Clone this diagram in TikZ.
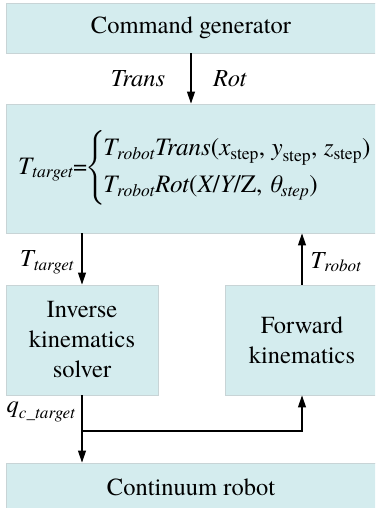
\documentclass[tikz,border=0pt]{standalone}
\usepackage{amsmath}
\usepackage{fontspec}
\setmainfont{TeX Gyre Termes}
\usetikzlibrary{arrows.meta,calc}
\definecolor{boxfill}{RGB}{212,236,238}
\definecolor{boxline}{RGB}{200,212,214}
\tikzset{
  blockbox/.style={draw=boxline, fill=boxfill, line width=0.9pt, inner sep=0pt,
    align=center, font=\rmfamily\fontsize{24.5}{30}\selectfont},
  flow/.style={-{Triangle[width=8pt,length=12pt]}, line width=1.1pt},
  lbl/.style={inner sep=0pt, font=\rmfamily\fontsize{24.5}{29}\selectfont}
}
\begin{document}
\begin{tikzpicture}[x=1pt,y=-1pt]
\useasboundingbox (0,0) rectangle (375,508);
\clip (0,0) rectangle (375,508);
\fill[white] (0,0) rectangle (375,508);

% blocks
\node[blockbox, minimum width=370pt, minimum height=50pt] (cmd) at (191,28) {Command generator};
\node[blockbox, minimum width=370pt, minimum height=129pt] (form) at (191,168.5) {};
\node[blockbox, minimum width=152pt, minimum height=110pt] (inv) at (82,340) {Inverse\\kinematics\\solver};
\node[blockbox, minimum width=154pt, minimum height=110pt] (fwd) at (302,340) {Forward\\kinematics};
\node[blockbox, minimum width=370pt, minimum height=48pt] (rob) at (191,487) {Continuum robot};

% update rule inside the target block
\node[lbl, anchor=west, font=\rmfamily\fontsize{25.1}{29}\selectfont] (eq) at (18,168) {$\textit{T}_{\textit{target}}\text{=}\mkern-4mu\left\{\mkern-2mu\begin{array}{@{}l@{}}
  \textit{T}_{\textit{robot}}\textit{Trans}\text{(}\textit{x}_{\text{step}}\text{, }\textit{y}_{\text{step}}\text{, }\textit{z}_{\text{step}}\text{)}\\[8pt]
  \textit{T}_{\textit{robot}}\textit{Rot}\text{(}\textit{X}\text{/}\textit{Y}\text{/Z, }\textit{θ}_{\textit{step}}\text{)}
\end{array}\right.$};

% connectors
\draw[flow] (cmd.south) -- (form.north);
\draw[flow] (form.south -| inv) -- (inv.north);
\draw[flow] (fwd.north) -- (form.south -| fwd);
\draw[flow] (inv.south) -- (rob.north -| inv);
\coordinate (split) at (82,431);
\draw[flow] (split) -| (fwd.south);

% connector labels
\node[lbl] (ltrans) at (138,79) {\textit{Trans}};
\node[lbl] (lrot) at (230,79) {\textit{Rot}};
\node[lbl] (ltgt) at (47,262) {$\textit{T}_{\textit{target}}$};
\node[lbl] (lrob) at (336,262) {$\textit{T}_{\textit{robot}}$};
\node[lbl] (lq) at (41,412) {$\textit{q}_{\textit{c\_target}}$};
\end{tikzpicture}
\end{document}
